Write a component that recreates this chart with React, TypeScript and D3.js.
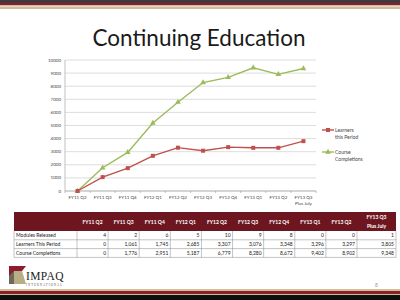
import React from "react";
import * as d3 from "d3";

const categories = ["FY11 Q2","FY11 Q3","FY11 Q4","FY12 Q1","FY12 Q2","FY12 Q3","FY12 Q4","FY13 Q1","FY13 Q2","FY13 Q3"];
const categorySub = ["","","","","","","","","","Plus July"];
const learners = [0,1061,1745,2685,3307,3076,3348,3296,3297,3805];
const completions = [0,1776,2951,5187,6779,8280,8672,9402,8902,9348];
const modules = [4,2,6,5,10,9,8,0,0,1];
const yTicks = [0,1000,2000,3000,4000,5000,6000,7000,8000,9000,10000];
const rowLabels = ["Modules Released","Learners  This Period","Course Completions"];

const RED = "#C0504D";
const GREEN = "#9BBB59";
const MAROON = "#6E1620";
const FONT = "Lato, 'Open Sans', sans-serif";

export default function App() {
  const x = d3.scaleBand<string>().domain(categories).range([65, 316]);
  const y = d3.scaleLinear().domain([0, 10000]).range([191, 60]);
  const cx = (c: string) => (x(c) as number) + x.bandwidth() / 2;

  const line = d3.line<number>().x((_, i) => cx(categories[i])).y((d) => y(d));
  const fmt = d3.format(",");

  const tLeft = 14, labelRight = 77, lastStart = 357, tRight = 396;
  const colW = (lastStart - labelRight) / 9;
  const colEdges = categories.map((_, i) => (i < 9 ? labelRight + i * colW : lastStart));
  const colEnd = (i: number) => (i < 9 ? colEdges[i] + colW : tRight);
  const hTop = 212, hBot = 231, rowH = 8.8;
  const rows = [modules.map(String), learners.map(fmt), completions.map(fmt)];

  const tri = d3.symbol().type(d3.symbolTriangle).size(14)();
  return (
    <svg width={400} height={300} style={{ position: "absolute", left: 0, top: 0, background: "#fff" }} fontFamily={FONT}>
      <rect x={0} y={0} width={400} height={300} fill="#fff" />
      <rect x={0} y={0} width={400} height={3} fill="#3c3a3b" />
      <rect x={0} y={3} width={400} height={2.5} fill="#8c1c2e" />
      <rect x={0} y={5.5} width={400} height={1} fill="#e9dfe0" />
      <rect x={0} y={6.5} width={400} height={2.5} fill="#cdbf96" />
      <rect x={0} y={289} width={400} height={2} fill="#cdbf96" />
      <rect x={0} y={291} width={400} height={3} fill="#8c1c2e" />
      <rect x={0} y={294} width={400} height={1} fill="#cdbf96" />
      <rect x={0} y={295} width={400} height={5} fill="#0e0e0e" />

      <text x={199} y={46} textAnchor="middle" fontSize={22.5} fill="#1a1a1a">Continuing Education</text>

      {yTicks.map((t) => (
        <g key={t}>
          <line x1={65} x2={316} y1={y(t)} y2={y(t)} stroke="#d4d4d4" strokeWidth={0.8} />
          <text x={61} y={y(t) + 1.5} textAnchor="end" fontSize={4.5} fill="#444">{t}</text>
        </g>
      ))}
      <line x1={65} x2={65} y1={60} y2={191} stroke="#999" strokeWidth={0.6} />
      <line x1={65} x2={316} y1={191} y2={191} stroke="#999" strokeWidth={0.6} />
      {categories.map((c, i) => (
        <g key={c}>
          <line x1={x(c) as number} x2={x(c) as number} y1={191} y2={193} stroke="#999" strokeWidth={0.6} />
          <text x={cx(c)} y={199} textAnchor="middle" fontSize={4.5} fill="#444">{c}</text>
          {categorySub[i] && <text x={cx(c)} y={205} textAnchor="middle" fontSize={4.5} fill="#444">{categorySub[i]}</text>}
        </g>
      ))}
      <line x1={316} x2={316} y1={191} y2={193} stroke="#999" strokeWidth={0.6} />

      <path d={line(completions) || ""} fill="none" stroke={GREEN} strokeWidth={1.4} />
      <path d={line(learners) || ""} fill="none" stroke={RED} strokeWidth={1.4} />
      {completions.map((v, i) => (
        <path key={"g" + i} d={tri || ""} transform={`translate(${cx(categories[i])},${y(v)})`} fill={GREEN} />
      ))}
      {learners.map((v, i) => (
        <rect key={"r" + i} x={cx(categories[i]) - 2} y={y(v) - 2} width={4} height={4} fill={RED} />
      ))}

      <line x1={322} x2={334} y1={130} y2={130} stroke={RED} strokeWidth={1.4} />
      <rect x={326} y={128} width={4} height={4} fill={RED} />
      <text x={335} y={131.5} fontSize={5} fill="#444">Learners</text>
      <text x={335} y={139} fontSize={5} fill="#444">this Period</text>
      <line x1={322} x2={334} y1={152} y2={152} stroke={GREEN} strokeWidth={1.4} />
      <path d={tri || ""} transform="translate(328,152)" fill={GREEN} />
      <text x={335} y={153.5} fontSize={5} fill="#444">Course</text>
      <text x={335} y={161} fontSize={5} fill="#444">Completions</text>

      <rect x={tLeft} y={hTop} width={tRight - tLeft} height={hBot - hTop} fill={MAROON} />
      {categories.map((c, i) => {
        const mid = (colEdges[i] + colEnd(i)) / 2;
        return categorySub[i] ? (
          <g key={"h" + c}>
            <text x={mid} y={219} textAnchor="middle" fontSize={5} fontWeight="bold" fill="#fff">{c}</text>
            <text x={mid} y={227.5} textAnchor="middle" fontSize={5} fontWeight="bold" fill="#fff">{categorySub[i]}</text>
          </g>
        ) : (
          <text key={"h" + c} x={mid} y={223.5} textAnchor="middle" fontSize={5} fontWeight="bold" fill="#fff">{c}</text>
        );
      })}
      {rows.map((r, ri) => {
        const top = hBot + ri * rowH;
        return (
          <g key={"row" + ri}>
            <text x={tLeft + 2} y={top + 6.3} fontSize={5} fill="#222">{rowLabels[ri]}</text>
            {r.map((v, i) => (
              <text key={i} x={colEnd(i) - 2} y={top + 6.3} textAnchor="end" fontSize={5} fill="#222">{v}</text>
            ))}
            <line x1={tLeft} x2={tRight} y1={top + rowH} y2={top + rowH} stroke="#888" strokeWidth={0.5} />
          </g>
        );
      })}
      <line x1={tLeft} x2={tLeft} y1={hBot} y2={hBot + 3 * rowH} stroke="#888" strokeWidth={0.5} />
      <line x1={labelRight} x2={labelRight} y1={hBot} y2={hBot + 3 * rowH} stroke="#888" strokeWidth={0.5} />
      {categories.map((c, i) => (
        <line key={"v" + c} x1={colEnd(i)} x2={colEnd(i)} y1={hBot} y2={hBot + 3 * rowH} stroke="#888" strokeWidth={0.5} />
      ))}

      <polygon points="9,266 26,266 22,271 14,271 14,284 9,284" fill="#8c1c2e" />
      <polygon points="14,271 22,271 26,284 14,284" fill="#b9ad86" />
      <polygon points="9,276 14,271 14,284 9,284" fill="#6d6a5a" />
      <text x={26} y={280} fontSize={11.5} fontFamily="'Liberation Serif', serif" fill="#222" letterSpacing={0.4}>IMPAQ</text>
      <text x={26} y={285.5} fontSize={3} fontFamily="'Liberation Serif', serif" fill="#555" letterSpacing={1}>INTERNATIONAL</text>
      <text x={375} y={287} fontSize={5} fill="#999">8</text>
    </svg>
  );
}
